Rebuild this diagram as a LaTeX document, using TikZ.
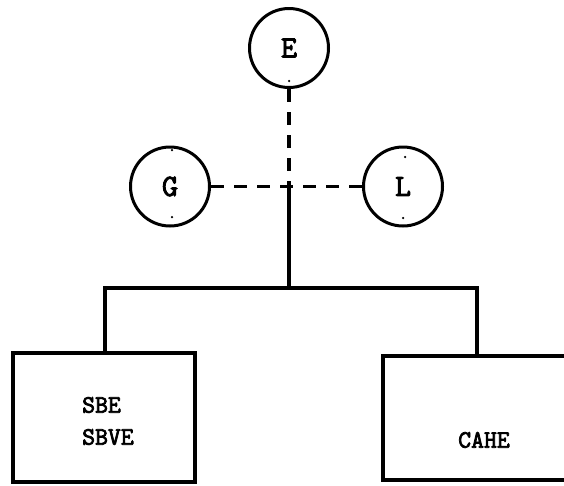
\documentclass[tikz,border=0pt]{standalone}
\usepackage{fontspec}
\newfontfamily\twfont[FakeBold=3]{Latin Modern Mono}
\begin{document}
\begin{tikzpicture}[x=1pt,y=-1pt,
  circ/.style={draw,circle,line width=3pt,minimum size=79pt,inner sep=0pt,font=\twfont\fontsize{31}{33}\selectfont},
  boxn/.style={draw,line width=3.4pt,inner sep=0pt},
  conn/.style={line width=3.2pt},
  dashconn/.style={line width=3.2pt,dash pattern=on 13pt off 10pt},
  lbl/.style={font=\twfont\fontsize{25}{32}\selectfont,inner sep=0pt,align=left},
  dotm/.style={fill,circle,inner sep=0pt,minimum size=2.5pt}]
\useasboundingbox (0,0) rectangle (564,485);
\node[circ] (E) at (289,48) {E};
\node[circ] (G) at (170,186.5) {G};
\node[circ] (L) at (403,186.5) {L};
\node[dotm] (e1) at (289,81) {};
\node[dotm] (g1) at (172,150) {};
\node[dotm] (g2) at (172,217) {};
\node[dotm] (l1) at (405,157) {};
\node[dotm] (l2) at (403,218) {};
\node[boxn,minimum width=182pt,minimum height=129pt] (B1) at (104,417.5) {};
\node[boxn,minimum width=240pt,minimum height=124pt] (B2) at (503,418) {};
\node[lbl,anchor=west] (t1) at (82,421) {SBE\\SBVE};
\node[lbl] (t2) at (484,440) {CAHE};
\coordinate (X) at (289,186.5);
\coordinate (J) at (289,288);
\coordinate (JL) at (105,288);
\coordinate (JR) at (477,288);
\draw[dashconn] (E.south) -- (X);
\draw[dashconn] (G.east) -- (L.west);
\draw[conn] (X) -- (J);
\draw[conn,line cap=rect] (JL) -- (JR);
\draw[conn] (JL) -- (JL |- B1.north);
\draw[conn] (JR) -- (JR |- B2.north);
\end{tikzpicture}
\end{document}
